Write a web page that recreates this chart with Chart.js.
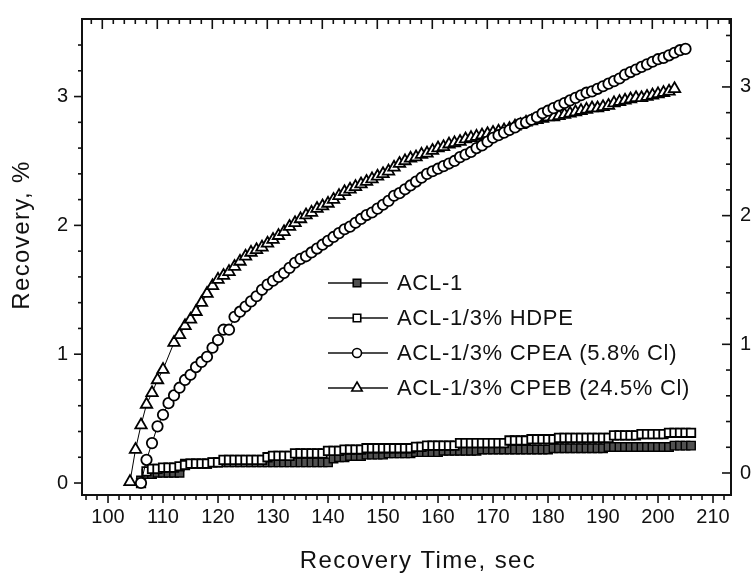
<!DOCTYPE html>
<html>
<head>
<meta charset="utf-8">
<script src="https://cdn.jsdelivr.net/npm/chart.js@4/dist/chart.umd.min.js"></script>
<style>
html,body{margin:0;padding:0;background:#fff;}
#wrap{width:755px;height:577px;position:relative;}
</style>
</head>
<body>
<div id="wrap"><canvas id="c" width="755" height="577"></canvas></div>
<script>
// ---- data ----
const seriesLabels = ['ACL-1', 'ACL-1/3% HDPE', 'ACL-1/3% CPEA (5.8% Cl)', 'ACL-1/3% CPEB (24.5% Cl)'];

const timeSquares = [106,107,108,109,110,111,112,113,114,115,116,117,118,119,120,121,122,123,124,125,126,127,128,129,130,131,132,133,134,135,136,137,138,139,140,141,142,143,144,145,146,147,148,149,150,151,152,153,154,155,156,157,158,159,160,161,162,163,164,165,166,167,168,169,170,171,172,173,174,175,176,177,178,179,180,181,182,183,184,185,186,187,188,189,190,191,192,193,194,195,196,197,198,199,200,201,202,203,204,205,206];

const acl1 = [0.02,0.07,0.07,0.08,0.08,0.08,0.08,0.08,
  0.15,0.15,0.15,0.15,0.15,0.16,0.16,0.16,0.16,0.16,0.16,0.16,0.16,0.16,0.16,0.16,0.16,0.16,0.16,0.16,0.16,0.16,0.16,0.16,0.16,0.16,0.16,
  0.19,0.20,0.20,0.21,0.21,0.21,0.22,0.22,0.22,0.22,
  0.23,0.23,0.23,0.23,0.23,0.24,0.24,0.24,0.24,0.24,
  0.25,0.25,0.25,0.25,0.25,0.25,0.25,0.26,0.26,0.26,
  0.26,0.26,0.26,0.26,0.26,0.26,0.26,0.26,0.26,0.26,
  0.27,0.27,0.27,0.27,0.27,0.27,0.27,0.27,0.27,0.27,
  0.28,0.28,0.28,0.28,0.28,0.28,0.28,0.28,0.28,0.28,
  0.28,0.28,0.29,0.29,0.29,0.29];

const hdpe = [0.00,0.09,0.11,0.11,0.12,0.12,0.12,0.13,
  0.14,0.15,0.15,0.15,0.15,0.16,0.16,
  0.18,0.18,0.18,0.18,0.18,0.18,0.18,0.18,
  0.20,0.21,0.21,0.21,0.21,
  0.23,0.23,0.23,0.23,0.23,0.23,
  0.25,0.25,0.25,0.26,0.26,0.26,0.26,
  0.27,0.27,0.27,0.27,0.27,0.27,0.27,0.27,0.27,
  0.28,0.28,0.29,0.29,0.29,0.29,0.29,0.29,
  0.31,0.31,0.31,0.31,0.31,0.31,0.31,0.31,0.31,
  0.33,0.33,0.33,0.33,0.34,0.34,0.34,0.34,0.34,
  0.35,0.35,0.35,0.35,0.35,0.35,0.35,0.35,0.35,0.35,
  0.37,0.37,0.37,0.37,0.37,0.38,0.38,0.38,0.38,0.38,
  0.39,0.39,0.39,0.39,0.39];

const timeCPEA = [106,107,108,109,110,111,112,113,114,115,116,117,118,119,120,121,122,123,124,125,126,127,128,129,130,131,132,133,134,135,136,137,138,139,140,141,142,143,144,145,146,147,148,149,150,151,152,153,154,155,156,157,158,159,160,161,162,163,164,165,166,167,168,169,170,171,172,173,174,175,176,177,178,179,180,181,182,183,184,185,186,187,188,189,190,191,192,193,194,195,196,197,198,199,200,201,202,203,204,205];

const cpea = [0.00,0.18,0.31,0.44,0.53,0.62,0.68,0.74,0.80,0.84,
  0.90,0.94,0.98,1.05,1.11,1.19,1.19,1.29,1.33,1.37,
  1.41,1.45,1.50,1.54,1.57,1.60,1.63,1.67,1.71,1.74,
  1.76,1.79,1.82,1.85,1.88,1.91,1.94,1.97,1.99,2.02,
  2.05,2.08,2.10,2.13,2.16,2.19,2.23,2.25,2.28,2.31,
  2.34,2.37,2.40,2.42,2.44,2.46,2.48,2.50,2.53,2.55,
  2.57,2.60,2.62,2.65,2.68,2.70,2.72,2.74,2.76,2.79,
  2.80,2.82,2.84,2.87,2.89,2.91,2.93,2.95,2.97,2.99,
  3.01,3.03,3.04,3.06,3.08,3.10,3.12,3.14,3.17,3.19,
  3.21,3.23,3.25,3.27,3.29,3.30,3.32,3.34,3.36,3.37];

const timeCPEB = [104,105,106,107,108,109,110,112,113,114,115,116,117,118,119,120,121,122,123,124,125,126,127,128,129,130,131,132,133,134,135,136,137,138,139,140,141,142,143,144,145,146,147,148,149,150,151,152,153,154,155,156,157,158,159,160,161,162,163,164,165,166,167,168,169,170,171,172,173,174,175,176,177,178,179,180,181,182,183,184,185,186,187,188,189,190,191,192,193,194,195,196,197,198,199,200,201,202,203];

const cpeb = [0.01,0.26,0.45,0.61,0.70,0.80,0.88,1.09,1.15,
  1.22,1.27,1.33,1.40,1.47,1.53,1.58,1.61,1.64,1.68,
  1.72,1.76,1.79,1.81,1.83,1.86,1.89,1.92,1.95,1.99,
  2.02,2.05,2.08,2.10,2.13,2.15,2.17,2.20,2.23,2.26,
  2.28,2.30,2.32,2.34,2.36,2.38,2.40,2.42,2.45,2.48,
  2.50,2.52,2.53,2.55,2.56,2.58,2.60,2.61,2.63,2.64,
  2.65,2.67,2.68,2.69,2.70,2.71,2.72,2.73,2.74,2.75,
  2.77,2.78,2.80,2.81,2.82,2.83,2.84,2.84,2.85,2.86,
  2.87,2.88,2.89,2.90,2.91,2.91,2.92,2.93,2.95,2.96,
  2.97,2.98,2.99,2.99,3.00,3.01,3.02,3.03,3.04,3.06];

const xTickLabels = [100,110,120,130,140,150,160,170,180,190,200,210];
const yTickLabels = [0,1,2,3];

const xTitle = 'Recovery Time, sec';
const yTitle = 'Recovery, %';

// ---- chart ----
const FONT = "'Liberation Sans', Arial, Helvetica, sans-serif";
const pts = (t, v) => t.map((x, i) => ({x: x, y: v[i]}));

const markerStyles = [
  {pointStyle: 'rect', pointRadius: 6, pointBackgroundColor: '#505050', pointBorderWidth: 1.4, order: 4},
  {pointStyle: 'rect', pointRadius: 6, pointBackgroundColor: '#ffffff', pointBorderWidth: 1.8, order: 3},
  {pointStyle: 'circle', pointRadius: 5.2, pointBackgroundColor: '#ffffff', pointBorderWidth: 1.8, order: 1},
  {pointStyle: 'triangle', pointRadius: 6.6, pointBackgroundColor: '#ffffff', pointBorderWidth: 1.8, order: 2}
];
const seriesData = [pts(timeSquares, acl1), pts(timeSquares, hdpe), pts(timeCPEA, cpea), pts(timeCPEB, cpeb)];

const datasets = seriesLabels.map((lab, i) => Object.assign({
  label: lab,
  data: seriesData[i],
  borderColor: '#000',
  borderWidth: 1,
  pointBorderColor: '#000',
  tension: 0,
  fill: false
}, markerStyles[i]));

function line(ctx, x1, y1, x2, y2) {
  ctx.beginPath(); ctx.moveTo(x1, y1); ctx.lineTo(x2, y2); ctx.stroke();
}

const decor = {
  id: 'decor',
  afterDraw(chart) {
    const ctx = chart.ctx, a = chart.chartArea;
    const sx = chart.scales.x, sx2 = chart.scales.x2, sy = chart.scales.y, sy2 = chart.scales.y2;
    ctx.save();
    ctx.strokeStyle = '#111';
    ctx.lineWidth = 1.6;
    for (let k = 46; k <= 107; k++) {
      const v = 2 * k, p = sx.getPixelForValue(v);
      if (p < a.left + 1 || p > a.right - 1) continue;
      line(ctx, p, a.bottom, p, a.bottom + (v % 10 === 0 ? 8 : 5));
    }
    for (let k = 46; k <= 108; k++) {
      const v = 2 * k, p = sx2.getPixelForValue(v);
      if (p < a.left + 1 || p > a.right - 1) continue;
      line(ctx, p, a.top, p, a.top + (v % 10 === 0 ? 10 : 5));
    }
    for (let k = 0; k <= 18; k++) {
      const p = sy.getPixelForValue(k * 0.2);
      if (p < a.top + 1 || p > a.bottom - 1) continue;
      line(ctx, a.left, p, a.left - (k % 5 === 0 ? 8 : 4), p);
    }
    for (let k = 0; k <= 18; k++) {
      const p = sy2.getPixelForValue(k * 0.2);
      if (p < a.top + 1 || p > a.bottom - 1) continue;
      line(ctx, a.right, p, a.right - (k % 5 === 0 ? 9 : 5), p);
    }

    // legend
    const rows = [283, 318, 353, 388];
    ctx.font = '22px ' + FONT;
    try { ctx.letterSpacing = '0.7px'; } catch (e) {}
    ctx.textBaseline = 'middle';
    ctx.textAlign = 'left';
    chart.data.datasets.forEach((ds, i) => {
      const yy = rows[i];
      ctx.strokeStyle = '#111';
      ctx.lineWidth = 1.6;
      line(ctx, 328, yy, 388, yy);
      ctx.fillStyle = ds.pointBackgroundColor;
      ctx.strokeStyle = '#000';
      ctx.lineWidth = 1.6;
      Chart.helpers.drawPoint(ctx, {pointStyle: ds.pointStyle, rotation: 0,
        radius: ds.pointStyle === 'triangle' ? 6 : (ds.pointStyle === 'circle' ? 4.5 : 5.3), borderWidth: 1.6}, 357, yy);
      ctx.fillStyle = '#111';
      ctx.fillText(ds.label, 397, yy + 1);
    });

    // axis titles
    ctx.fillStyle = '#111';
    ctx.font = '24px ' + FONT;
    try { ctx.letterSpacing = '1.4px'; } catch (e) {}
    ctx.textAlign = 'center';
    ctx.textBaseline = 'alphabetic';
    ctx.fillText(xTitle, 418, 568);
    ctx.save();
    ctx.translate(29, 235);
    ctx.rotate(-Math.PI / 2);
    ctx.fillText(yTitle, 0, 0);
    ctx.restore();
    try { ctx.letterSpacing = '0px'; } catch (e) {}
    ctx.restore();
  }
};

const tickFont = {family: FONT, size: 20};
const borderOpt = {display: true, width: 2, color: '#111'};

new Chart(document.getElementById('c').getContext('2d'), {
  type: 'line',
  data: {datasets: datasets},
  options: {
    responsive: false,
    animation: false,
    devicePixelRatio: 1,
    layout: {padding: 0},
    plugins: {legend: {display: false}, tooltip: {enabled: false}, title: {display: false}},
    scales: {
      x: {
        type: 'linear', position: 'bottom', min: 95.27, max: 213.27,
        grid: {display: false, drawTicks: true, tickLength: 10}, border: borderOpt,
        ticks: {stepSize: 10, includeBounds: false, autoSkip: false, maxRotation: 0, padding: 0,
          font: tickFont, color: '#111',
          callback: (v) => xTickLabels.includes(Math.round(v)) ? String(Math.round(v)) : ''},
        afterFit: (s) => { s.height = 82; }
      },
      x2: {
        type: 'linear', position: 'top', min: 96.31, max: 214.31,
        grid: {display: false, drawTicks: false}, border: borderOpt,
        ticks: {display: false},
        afterFit: (s) => { s.height = 19; }
      },
      y: {
        type: 'linear', position: 'left', min: -0.093, max: 3.602,
        grid: {display: false, drawTicks: true, tickLength: 14}, border: borderOpt,
        ticks: {stepSize: 1, includeBounds: false, padding: 0, font: tickFont, color: '#111',
          callback: (v) => yTickLabels.includes(Math.round(v)) ? String(Math.round(v)) : ''},
        afterFit: (s) => { s.width = 82; }
      },
      y2: {
        type: 'linear', position: 'right', min: -0.171, max: 3.528,
        grid: {display: false, drawTicks: true, tickLength: 9}, border: borderOpt,
        ticks: {stepSize: 1, includeBounds: false, padding: 0, font: tickFont, color: '#111',
          callback: (v) => yTickLabels.includes(Math.round(v)) ? String(Math.round(v)) : ''},
        afterFit: (s) => { s.width = 24; }
      }
    }
  },
  plugins: [decor]
});
</script>
</body>
</html>
